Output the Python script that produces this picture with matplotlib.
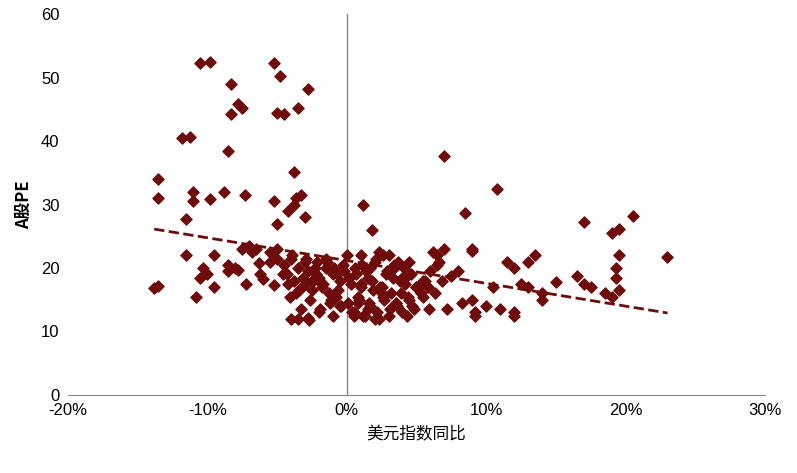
import matplotlib.pyplot as plt
import numpy as np
from matplotlib.ticker import FuncFormatter

plt.rcParams['font.family'] = ['Liberation Sans', 'Noto Sans CJK SC', 'DejaVu Sans']

### Data: USD index YoY (%) vs A-share PE ###
usd_yoy = [
    -13.5, -13.5, -13.8, -13.5, -11.8, -11.2, -11.5, -11.0, -11.0, -11.5, -10.5, -9.8,
    -10.8, -10.5, -10.3, -10.0, -9.5, -9.5, -9.8, -8.8, -8.5, -8.3, -8.3, -7.8,
    -7.5, -7.3, -7.5, -8.0, -8.5, -8.5, -7.8, -7.2, -7.0, -6.8, -6.5, -6.3,
    -6.2, -6.0, -5.5, -5.5, -5.3, -5.0, -5.0, -5.2, -5.2, -5.0, -5.2, -4.8,
    -4.5, -5.0, -4.2, -3.8, -3.6, -3.3, -3.0, -3.8, -3.5, -2.8, -4.0, -3.5,
    -3.3, -2.8, -2.7, -2.2, -2.0,
    -4.5, -4.3, -4.0, -3.8, -3.5, -3.2, -3.0, -2.8, -2.5, -2.3, -2.0, -1.8,
    -1.5, -1.3, -1.0, -0.8, -0.5, -0.3, -4.2, -3.9, -3.6, -3.1, -2.6, -2.1,
    -1.7, -1.2, -0.9, -0.6, -0.2, -4.6, -4.1, -3.4, -2.9, -2.4, -1.9, -1.4,
    -1.1, -0.7, -0.4, 0.2, 0.4, 0.6, 0.8, 1.0, 1.2, 1.4, 1.6, 1.8,
    2.0, 2.2, 2.4, 2.6, 2.8, 3.0, 3.2, 3.4, 3.6, 3.8, 4.0, 4.2,
    4.4, 4.6, 4.8, 5.0, 5.3, 5.6, 6.0, 0.1, 0.3, 0.5, 0.7, 0.9,
    1.1, 1.3, 1.5, 1.7, 1.9, 2.1, 2.3, 2.5, 2.7, 2.9, 3.1, 3.3,
    3.5, 3.7, 3.9, 4.1, 4.3, 4.5, 4.7, 5.1, 5.5, 5.9, 6.3, 0.0,
    0.5, 1.0, 1.5, 2.0, 2.5, 3.0, 3.5, 4.0, 4.5, 5.0, 5.5, 6.5,
    -0.5, -1.0, -1.5, -2.0, -2.5, -3.0, 1.2, 1.8, 2.6, 3.4, 4.2, 1.0,
    1.7, 0.8, 2.3,
    6.2, 6.5, 7.0, 7.0, 8.5, 9.0, 9.0, 10.5, 10.8, 11.5, 12.0, 12.0,
    12.0, 13.0, 13.5, 13.0, 12.5, 14.0, 14.0, 15.0, 16.5, 17.0, 17.0, 17.5,
    18.5, 19.0, 19.0, 19.5, 19.5, 19.3, 19.3, 19.5, 20.5, 23.0, 9.0, 9.2,
    9.2, 8.0, 7.5, 8.3, 10.0, 11.0, 6.8, 7.2, 5.8, 6.6,
]
a_pe = [
    34.0, 31.0, 16.8, 17.2, 40.5, 40.7, 27.8, 32.0, 30.5, 22.0, 52.3, 52.5,
    15.5, 18.5, 20.0, 19.0, 17.0, 22.0, 30.8, 32.0, 38.5, 49.0, 44.3, 45.8,
    45.2, 31.5, 23.0, 20.0, 19.5, 20.5, 19.7, 17.5, 23.5, 22.5, 23.0, 20.8,
    19.0, 18.2, 21.0, 22.5, 22.0, 23.0, 21.5, 17.3, 30.5, 27.0, 52.3, 50.2,
    44.3, 44.4, 29.0, 30.0, 31.0, 31.5, 28.0, 35.2, 45.2, 48.2, 12.0, 12.0,
    13.5, 12.2, 11.8, 19.0, 18.0,
    20.5, 19.0, 21.5, 18.0, 20.0, 17.0, 21.0, 19.5, 16.5, 20.0, 18.5, 17.0,
    20.0, 16.0, 19.0, 15.5, 18.0, 20.5, 17.5, 22.0, 16.0, 18.5, 15.0, 21.0,
    17.5, 14.5, 20.0, 16.5, 19.5, 19.0, 15.5, 16.5, 21.5, 18.0, 13.5, 21.0,
    15.0, 19.0, 14.0, 18.5, 13.0, 20.0, 15.5, 17.0, 12.5, 19.5, 14.5, 18.0,
    21.0, 13.0, 17.0, 15.5, 19.0, 12.5, 16.0, 20.0, 14.0, 18.0, 13.0, 17.5,
    15.5, 19.0, 13.5, 17.0, 16.0, 18.0, 19.5, 14.5, 17.5, 13.0, 19.0, 15.0,
    20.5, 12.5, 18.5, 14.0, 16.5, 21.5, 12.0, 17.0, 15.0, 19.5, 13.5, 18.5,
    14.5, 21.0, 16.0, 20.0, 12.5, 15.0, 14.0, 17.0, 18.0, 13.5, 16.0, 22.0,
    12.5, 22.0, 13.5, 12.0, 16.0, 22.0, 14.5, 18.5, 21.0, 17.0, 15.5, 20.5,
    14.0, 12.5, 21.5, 13.0, 18.0, 17.5, 30.0, 26.0, 22.0, 20.5, 18.5, 17.5,
    20.0, 14.5, 22.5,
    22.5, 22.0, 23.0, 37.7, 28.7, 23.0, 22.7, 17.0, 32.5, 21.0, 20.0, 13.0,
    12.5, 21.0, 22.0, 17.0, 17.5, 15.0, 16.0, 17.8, 18.7, 27.2, 17.5, 17.0,
    16.0, 15.5, 25.5, 26.2, 22.0, 20.0, 18.5, 16.5, 28.2, 21.8, 15.0, 13.0,
    12.5, 19.5, 18.8, 14.5, 14.0, 13.5, 18.0, 13.5, 17.0, 21.0,
]

x_ticks = [-20, -10, 0, 10, 20, 30]
y_ticks = [0, 10, 20, 30, 40, 50, 60]

x = np.array(usd_yoy)
y = np.array(a_pe)

fig = plt.figure(figsize=(7.97, 4.73), dpi=100)
ax = fig.add_axes([0.085, 0.165, 0.875, 0.805])

ax.scatter(x, y, marker='D', s=32, color='#6E0B0B', zorder=3)

# linear trend
k, b = np.polyfit(x, y, 1)
xl = np.array([x.min(), x.max()])
ax.plot(xl, k * xl + b, linestyle='--', color='#6E0B0B', linewidth=2, zorder=2)

ax.set_xlim(-20, 30)
ax.set_ylim(0, 60)
ax.set_xticks(x_ticks)
ax.set_yticks(y_ticks)
ax.xaxis.set_major_formatter(FuncFormatter(lambda v, p: f"{v:.0f}%"))
ax.tick_params(axis='both', length=0, labelsize=12, pad=6)

for s in ['top', 'right', 'left']:
    ax.spines[s].set_visible(False)
ax.spines['bottom'].set_color('#888888')
ax.axvline(0, color='#888888', linewidth=1, zorder=1)

cjk = ['Noto Sans CJK SC', 'DejaVu Sans']
ax.set_xlabel("美元指数同比", fontsize=12, labelpad=6, family=cjk)
ax.set_ylabel("A股PE", fontsize=12, fontweight='bold', labelpad=6, family=cjk)

fig.savefig("out.png", dpi=100)
